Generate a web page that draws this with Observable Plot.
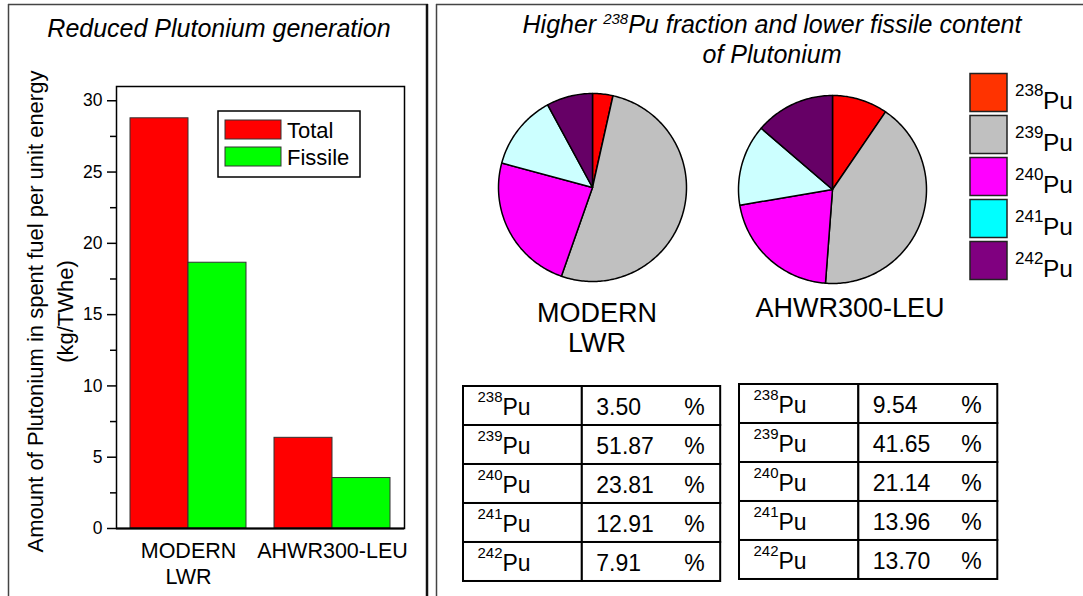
<!DOCTYPE html>
<html><head><meta charset="utf-8">
<script src="https://cdn.jsdelivr.net/npm/d3@7"></script>
<script src="https://cdn.jsdelivr.net/npm/@observablehq/plot@0.6"></script>
<style>
body{margin:0;background:#fff;font-family:"Liberation Sans",Arial,sans-serif;color:#000;}
#root{position:relative;width:1083px;height:596px;overflow:hidden;background:#fff;}
#root > *{position:absolute;}
</style></head><body><div id="root"></div>
<script>
// ---------- data ----------
const reactors = ["MODERN LWR", "AHWR300-LEU"];
const reactorLines = [["MODERN", "LWR"], ["AHWR300-LEU"]];
const barSeries = ["Total", "Fissile"];
const barColors = ["#ff0000", "#00ff00"];
const totalPu = [28.77, 6.36];
const fissilePu = [18.64, 3.54];
const yTicks = [0, 5, 10, 15, 20, 25, 30];
const yMinorTicks = [2.5, 7.5, 12.5, 17.5, 22.5, 27.5];
const yLabel = ["Amount of Plutonium in spent fuel per unit energy", "(kg/TWhe)"];
const leftTitle = "Reduced Plutonium generation";
const rightTitle = ["Higher ", "238", "Pu fraction and lower fissile content", "of Plutonium"];
const isotopes = ["238", "239", "240", "241", "242"];
const lwrPct = [3.50, 51.87, 23.81, 12.91, 7.91];
const ahwrPct = [9.54, 41.65, 21.14, 13.96, 13.70];
const pieColors = ["#ff0000", "#c0c0c0", "#ff00ff", "#ccffff", "#660066"];
const legendColors = ["#ff3300", "#c0c0c0", "#ff00ff", "#00ffff", "#800080"];

const FONT = '"Liberation Sans", Arial, sans-serif';
const root = document.getElementById("root");
function place(el, left, top) { el.style.position = "absolute"; el.style.left = left + "px"; el.style.top = top + "px"; root.appendChild(el); }

// ---------- bar chart ----------
const barData = reactors.flatMap((r, i) => [
  {reactor: r, series: barSeries[0], value: totalPu[i]},
  {reactor: r, series: barSeries[1], value: fissilePu[i]}
]);
const bar = Plot.plot({
  width: 428, height: 590,
  marginLeft: 116, marginRight: 24, marginTop: 86, marginBottom: 62,
  style: {background: "transparent", fontFamily: FONT, overflow: "visible", color: "#000"},
  x: {type: "band", domain: reactors, padding: 0},
  y: {domain: [0, 31]},
  color: {domain: barSeries, range: barColors},
  marks: [
    Plot.barY(barData.filter(d => d.series === barSeries[0]), {x: "reactor", y: "value", fill: "series", stroke: "#333", strokeWidth: 1, insetLeft: 14, insetRight: 72}),
    Plot.barY(barData.filter(d => d.series === barSeries[1]), {x: "reactor", y: "value", fill: "series", stroke: "#333", strokeWidth: 1, insetLeft: 72, insetRight: 14}),
    Plot.frame({stroke: "#000", strokeWidth: 1.5}),
    Plot.ruleY([0], {stroke: "#000", strokeWidth: 2}),
    Plot.axisY({ticks: yTicks, tickSize: 9, tickPadding: 5, fontSize: 17.5, strokeWidth: 1.5, label: null}),
    Plot.axisY({ticks: yMinorTicks, tickSize: 6, tickFormat: () => "", strokeWidth: 1.5, label: null}),
    Plot.axisX({tickSize: 0, tickPadding: 11, fontSize: 21.5, lineHeight: 1.2, label: null,
      tickFormat: d => reactorLines[reactors.indexOf(d)].join("\n")}),
    Plot.text([yLabel.join("\n")], {frameAnchor: "left", textAnchor: "middle", lineAnchor: "middle", rotate: -90, dx: -68, dy: 4, fontSize: 22, lineHeight: 1.36, text: d => d})
  ]
});
place(bar, 0, 0);

// ---------- pies ----------
function pieSlices(pcts) {
  const total = d3.sum(pcts);
  const pts = [];
  let acc = 0;
  pcts.forEach((v, i) => {
    const a0 = acc / total * 2 * Math.PI; acc += v; const a1 = acc / total * 2 * Math.PI;
    const n = Math.max(2, Math.ceil((a1 - a0) / (Math.PI / 180)));
    pts.push({iso: isotopes[i], x: 0, y: 0});
    for (let k = 0; k <= n; k++) { const a = a0 + (a1 - a0) * k / n; pts.push({iso: isotopes[i], x: Math.sin(a), y: Math.cos(a)}); }
    pts.push({iso: isotopes[i], x: 0, y: 0});
  });
  return pts;
}
function piePlot(pcts) {
  return Plot.plot({
    width: 200, height: 200, margin: 6,
    style: {background: "transparent", overflow: "visible"},
    x: {domain: [-1, 1], axis: null},
    y: {domain: [-1, 1], axis: null},
    color: {domain: isotopes, range: pieColors},
    marks: [
      Plot.line(pieSlices(pcts), {x: "x", y: "y", z: "iso", fill: "iso", stroke: "#000", strokeWidth: 1.5, strokeLinejoin: "round"})
    ]
  });
}
place(piePlot(lwrPct), 591.7 - 100, 186.7 - 100);
place(piePlot(ahwrPct), 832 - 100, 189 - 100);

// ---------- tables ----------
const colSplit = 0.462; // share of table width taken by the isotope column (layout)
function tablePlot(pcts, tableWidth) {
  const rows = isotopes.map((iso, i) => ({iso, value: pcts[i]}));
  const cells = rows.flatMap(r => [{iso: r.iso, x1: 0, x2: colSplit}, {iso: r.iso, x1: colSplit, x2: 1}]);
  return Plot.plot({
    width: tableWidth + 20, height: 219, marginLeft: 10, marginRight: 10, marginTop: 10, marginBottom: 10,
    style: {background: "transparent", fontFamily: FONT, overflow: "visible", color: "#000"},
    x: {domain: [0, 1], axis: null},
    y: {type: "band", domain: isotopes, padding: 0, axis: null},
    marks: [
      Plot.barX(cells, {x1: "x1", x2: "x2", y: "iso", fill: "white", stroke: "#000", strokeWidth: 2}),
      Plot.text(rows, {x: () => 0, y: "iso", text: "iso", textAnchor: "start", dx: 14, dy: -9, fontSize: 15}),
      Plot.text(rows, {x: () => 0, y: "iso", text: () => "Pu", textAnchor: "start", dx: 39, dy: 2, fontSize: 23}),
      Plot.text(rows, {x: () => colSplit, y: "iso", text: d => d.value.toFixed(2), textAnchor: "start", dx: 14, dy: 2, fontSize: 23}),
      Plot.text(rows, {x: () => 1, y: "iso", text: () => "%", textAnchor: "end", dx: -16, dy: 2, fontSize: 23})
    ]
  });
}
place(tablePlot(lwrPct, 257.2), 453.3, 374);
place(tablePlot(ahwrPct, 258.3), 728.7, 372.3);

// ---------- overlay: borders, titles, legends, labels ----------
const ov = d3.create("svg").attr("width", 1083).attr("height", 596)
  .style("position", "absolute").style("left", "0px").style("top", "0px")
  .style("font-family", FONT).style("pointer-events", "none");
ov.append("line").attr("x1", 8.5).attr("x2", 8.5).attr("y1", 4).attr("y2", 600).attr("stroke", "#444").attr("stroke-width", 1.5);
ov.append("line").attr("x1", 8).attr("x2", 428).attr("y1", 4.5).attr("y2", 4.5).attr("stroke", "#444").attr("stroke-width", 1.5);
ov.append("line").attr("x1", 427).attr("x2", 427).attr("y1", 4).attr("y2", 600).attr("stroke", "#111").attr("stroke-width", 2.5);
ov.append("line").attr("x1", 436.5).attr("x2", 436.5).attr("y1", 4).attr("y2", 600).attr("stroke", "#444").attr("stroke-width", 1.5);
ov.append("line").attr("x1", 436).attr("x2", 1083).attr("y1", 4.5).attr("y2", 4.5).attr("stroke", "#444").attr("stroke-width", 1.5);
ov.append("text").attr("x", 219).attr("y", 36.5).attr("text-anchor", "middle").attr("font-size", 25).attr("font-style", "italic").text(leftTitle);
const t1 = ov.append("text").attr("x", 772).attr("y", 33).attr("text-anchor", "middle").attr("font-size", 25).attr("font-style", "italic");
t1.append("tspan").text(rightTitle[0]);
t1.append("tspan").attr("font-size", 15).attr("dy", -9).text(rightTitle[1]);
t1.append("tspan").attr("dy", 9).text(rightTitle[2]);
ov.append("text").attr("x", 772).attr("y", 62.5).attr("text-anchor", "middle").attr("font-size", 25).attr("font-style", "italic").text(rightTitle[3]);
ov.append("rect").attr("x", 218).attr("y", 111).attr("width", 142).attr("height", 66).attr("fill", "#fff").attr("stroke", "#000").attr("stroke-width", 1.5);
barSeries.forEach((s, i) => {
  ov.append("rect").attr("x", 225).attr("y", 120 + i * 27).attr("width", 56).attr("height", 19).attr("fill", barColors[i]).attr("stroke", "#333").attr("stroke-width", 1);
  ov.append("text").attr("x", 287).attr("y", 137.5 + i * 27).attr("font-size", 22).text(s);
});
const pieCenters = [597, 850];
const pieBase = [322, 317];
reactorLines.forEach((lines, i) => {
  lines.forEach((l, j) => ov.append("text").attr("x", pieCenters[i]).attr("y", pieBase[i] + j * 30).attr("text-anchor", "middle").attr("font-size", 27).text(l));
});
isotopes.forEach((iso, i) => {
  const top = 73.5 + i * 42;
  ov.append("rect").attr("x", 970).attr("y", top).attr("width", 37).attr("height", 38).attr("fill", legendColors[i]).attr("stroke", "#222").attr("stroke-width", 1.5);
  ov.append("text").attr("x", 1015).attr("y", top + 22.5).attr("font-size", 17).text(iso);
  ov.append("text").attr("x", 1043).attr("y", top + 35).attr("font-size", 24.5).text("Pu");
});
root.appendChild(ov.node());
</script></body></html>
